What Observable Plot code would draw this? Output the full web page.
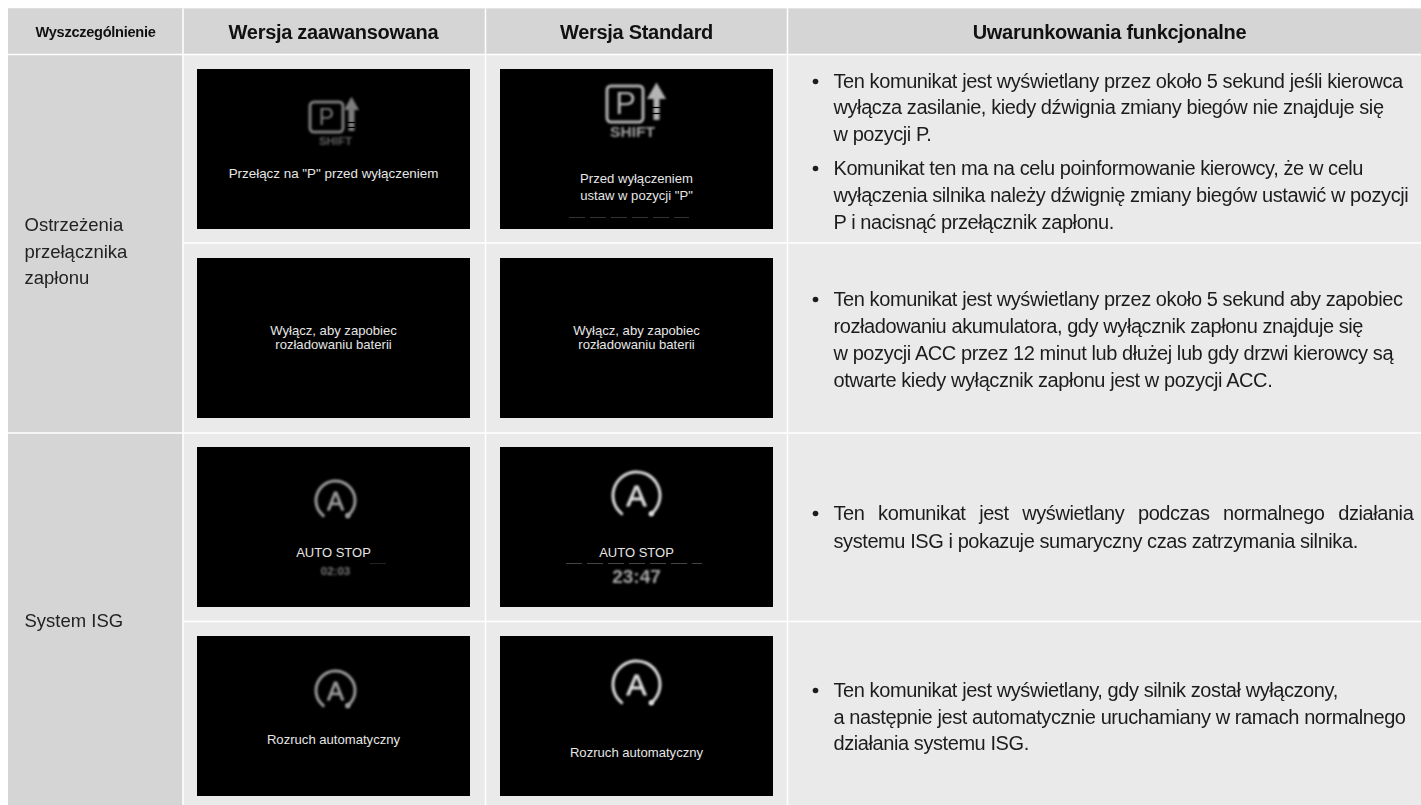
<!DOCTYPE html>
<html lang="pl"><head><meta charset="utf-8">
<script src="https://cdn.jsdelivr.net/npm/d3@7"></script>
<script src="https://cdn.jsdelivr.net/npm/@observablehq/plot@0.6"></script>
<style>
html,body{margin:0;padding:0;background:#fff;overflow:hidden}
svg{display:block}
.soft{filter:blur(.9px)}
.softer{filter:blur(.6px)}
.head text{letter-spacing:-.29px;filter:blur(.3px)}
.body-text text{letter-spacing:-.42px;filter:blur(.3px)}
.just text{letter-spacing:-.42px;word-spacing:8.5px;filter:blur(.3px)}
.label text{filter:blur(.3px)}
</style></head><body>
<div id="chart"></div>
<script>
// ---- table content ----
const headers = ["Wyszczególnienie","Wersja zaawansowana","Wersja Standard","Uwarunkowania funkcjonalne"];
const groupLabels = ["Ostrzeżenia","przełącznika","zapłonu","System ISG"];
const advancedCaptions = ['Przełącz na "P" przed wyłączeniem',"Wyłącz, aby zapobiec","rozładowaniu baterii","AUTO STOP","Rozruch automatyczny"];
const standardCaptions = ["Przed wyłączeniem",'ustaw w pozycji "P"',"Wyłącz, aby zapobiec","rozładowaniu baterii","AUTO STOP","Rozruch automatyczny"];
const timers = ["02:03","23:47"];
const notes = [
 "Ten komunikat jest wyświetlany przez około 5 sekund jeśli kierowca",
 "wyłącza zasilanie, kiedy dźwignia zmiany biegów nie znajduje się",
 "w pozycji P.",
 "Komunikat ten ma na celu poinformowanie kierowcy, że w celu",
 "wyłączenia silnika należy dźwignię zmiany biegów ustawić w pozycji",
 "P i nacisnąć przełącznik zapłonu.",
 "Ten komunikat jest wyświetlany przez około 5 sekund aby zapobiec",
 "rozładowaniu akumulatora, gdy wyłącznik zapłonu znajduje się",
 "w pozycji ACC przez 12 minut lub dłużej lub gdy drzwi kierowcy są",
 "otwarte kiedy wyłącznik zapłonu jest w pozycji ACC.",
 "systemu ISG i pokazuje sumaryczny czas zatrzymania silnika.",
 "Ten komunikat jest wyświetlany, gdy silnik został wyłączony,",
 "a następnie jest automatycznie uruchamiany w ramach normalnego",
 "działania systemu ISG."
];
const justifiedNote = ["Ten komunikat jest wyświetlany podczas normalnego działania"];

// ---- layout of the table (page units; the scales below map them to the SVG) ----
const colEdge = [8,182.5,485,787,1421];
const rowEdge = [8.5,54,242.5,432.5,621,805];
const colMid = [95,333,636,1109];
const headerY = 32;
const screens = [[197,470],[500,773]].flatMap(([x1,x2]) => [[69,229],[258,418],[447,607],[636,796]].map(([y1,y2]) => ({x1,x2,y1,y2})));
const noteX = 833;
const noteY = [81,107,134, 168,195,222, 299,326,353,380, 541, 690,717,743];
const bulletRows = [81,168,299,513,690];
const groupY = [225,252,278,621];
const advY = [173,330,344,552,739];
const stdY = [178,195,330,344,552,752];

// icon parts
const arcAngles = [-141,-125,-110,-95,-80,-65,-50,-35,-20,-5,10,25,40,55,70,85,100,115,130,141];
const gaugeIcons = [
 {cx:335,cy:500,r:19.5,c:"#9a9a9a",s:3,f:25},
 {cx:636,cy:495,r:23.5,c:"#dcdcdc",s:3,f:30},
 {cx:335,cy:690,r:19.5,c:"#9a9a9a",s:3,f:25},
 {cx:636,cy:684,r:23.5,c:"#dcdcdc",s:3,f:30}
];
const arcPoints = gaugeIcons.flatMap((g,i) => arcAngles.map(a => ({i, x:g.cx+g.r*Math.sin(a*Math.PI/180), y:g.cy-g.r*Math.cos(a*Math.PI/180), c:g.c, s:g.s})));
const arcEnds = gaugeIcons.map(g => ({x:g.cx+g.r*Math.sin(141*Math.PI/180), y:g.cy-g.r*Math.cos(141*Math.PI/180), c:g.c}));
const shiftIcons = [
 {x1:310,x2:343,y1:102,y2:132,px:326,py:117,pf:23,ax:351,a1:108,a2:131,ay:105,as:70,tx:335,ty:140.5,tf:11.5,c:"#7c7c7c",tc:"#5f5f5f"},
 {x1:607,x2:643,y1:86,y2:122,px:625,py:104,pf:31,ax:656,a1:96,a2:120,ay:93,as:110,tx:632,ty:132,tf:15.5,c:"#b4b4b4",tc:"#a0a0a0"}
];
const arrowStripes = [
 {x1:347,x2:355,y:122},{x1:347,x2:355,y:127},
 {x1:651,x2:661,y:107},{x1:651,x2:661,y:113}
];
const scratches = [
 {x1:569,x2:689,y:217,c:"#333"},{x1:566,x2:702,y:563,c:"#444"},{x1:370,x2:390,y:563,c:"#222"}
];

const F = "Liberation Sans";
const text = (data,x,y,o) => Plot.text(data,{text:d=>d,x,y,fontFamily:F,lineAnchor:"middle",...o});

const marks = [
 Plot.rect([0],{x1:colEdge[0],x2:colEdge[4],y1:rowEdge[0],y2:rowEdge[5],fill:"#eaeaea"}),
 Plot.rect([0],{x1:colEdge[0],x2:colEdge[4],y1:rowEdge[0],y2:rowEdge[1],fill:"#d5d5d5"}),
 Plot.rect([0],{x1:colEdge[0],x2:colEdge[1],y1:rowEdge[0],y2:rowEdge[5],fill:"#d5d5d5"}),
 // grid
 Plot.ruleX(colEdge.slice(1,4),{y1:rowEdge[0],y2:rowEdge[5],stroke:"#fff",strokeWidth:1.5}),
 Plot.ruleY([rowEdge[1],rowEdge[3]],{x1:colEdge[0],x2:colEdge[4],stroke:"#fff",strokeWidth:1.5}),
 Plot.ruleY([rowEdge[2],rowEdge[4]],{x1:colEdge[1],x2:colEdge[4],stroke:"#fff",strokeWidth:1.5}),
 // screens
 Plot.rect(screens,{x1:"x1",x2:"x2",y1:"y1",y2:"y2",fill:"#000"}),
 // headers
 text(headers,(d,i)=>colMid[i],headerY,{fontWeight:"bold",fill:"#111",fontSize:(d,i)=>i===0?14.6:20,className:"head"}),
 // first column
 text(groupLabels,24,(d,i)=>groupY[i],{textAnchor:"start",fontSize:18.5,fill:"#222",className:"label"}),
 // captions
 text(advancedCaptions,colMid[1],(d,i)=>advY[i],{fontSize:(d,i)=>i===3?13:i===0?13.4:13.1,fill:"#e6e6e6"}),
 text(standardCaptions,colMid[2],(d,i)=>stdY[i],{fontSize:(d,i)=>i===4?13:13.1,fill:"#e6e6e6"}),
 // timers
 text([timers[0]],335,571,{fontSize:11.5,fontWeight:"bold",fill:"#7a7a7a",className:"soft"}),
 text([timers[1]],636,576,{fontSize:19,fontWeight:"bold",fill:"#a8a8a8",className:"soft"}),
 // scratch lines
 Plot.ruleY(scratches,{y:"y",x1:"x1",x2:"x2",stroke:"c",strokeWidth:1,strokeDasharray:"16 5",className:"softer"}),
 // gauge icons
 Plot.line(arcPoints,{x:"x",y:"y",z:"i",stroke:"c",strokeWidth:"s",curve:"catmull-rom",className:"soft"}),
 Plot.dot(arcEnds,{x:"x",y:"y",r:2.6,fill:"c",className:"soft"}),
 Plot.text(gaugeIcons,{text:()=>"A",x:"cx",y:d=>d.cy+1,fill:"c",stroke:"c",strokeWidth:.8,fontSize:"f",fontFamily:F,lineAnchor:"middle",className:"soft"}),
 // shift icons
 Plot.rect(shiftIcons,{x1:"x1",x2:"x2",y1:"y1",y2:"y2",stroke:"c",strokeWidth:3,fill:"none",rx:4,className:"soft"}),
 Plot.text(shiftIcons,{text:()=>"P",x:"px",y:"py",fill:"c",fontSize:"pf",fontFamily:F,lineAnchor:"middle",className:"soft"}),
 Plot.ruleX(shiftIcons,{x:"ax",y1:"a1",y2:"a2",stroke:"c",strokeWidth:6,className:"soft"}),
 Plot.dot(shiftIcons,{x:"ax",y:"ay",symbol:"triangle",r:d=>Math.sqrt(d.as/Math.PI)*1.2,fill:"c",className:"soft"}),
 Plot.ruleY(arrowStripes,{y:"y",x1:"x1",x2:"x2",stroke:"#000",strokeWidth:1.2,className:"softer"}),
 Plot.text(shiftIcons,{text:()=>"SHIFT",x:"tx",y:"ty",fill:"tc",fontSize:"tf",fontWeight:"bold",fontFamily:F,lineAnchor:"middle",className:"soft"}),
 // notes
 text(notes,noteX,(d,i)=>noteY[i],{textAnchor:"start",fontSize:20,fill:"#1c1c1c",className:"body-text"}),
 text(justifiedNote,noteX,513,{textAnchor:"start",fontSize:20,fill:"#1c1c1c",className:"just"}),
 Plot.dot(bulletRows,{x:815,y:d=>d,r:2.8,fill:"#1c1c1c"})
];

const chart = Plot.plot({
 width:1421,height:805,margin:0,
 x:{type:"identity",axis:null},y:{type:"identity",axis:null},
 r:{type:"identity"},fontSize:{type:"identity"},
 style:{background:"#fff",fontFamily:F},
 marks
});
document.getElementById("chart").append(chart);
</script></body></html>
